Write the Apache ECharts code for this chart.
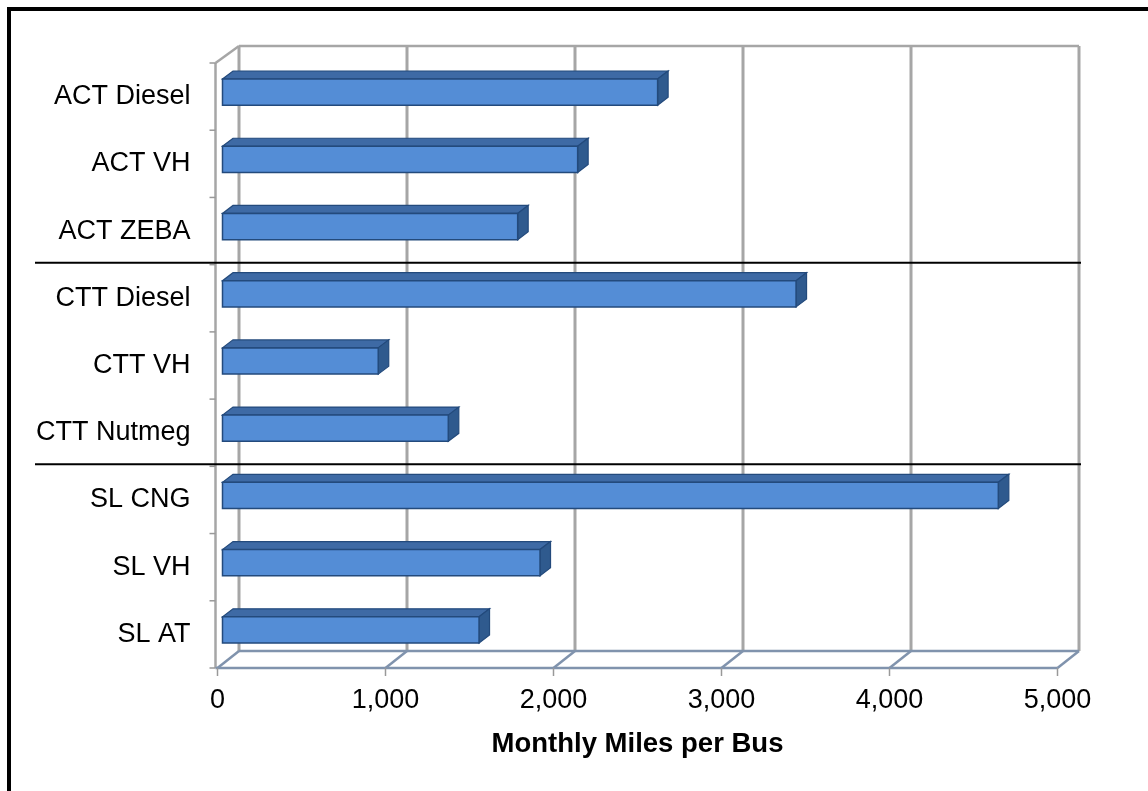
<!DOCTYPE html>
<html>
<head>
<meta charset="utf-8">
<script src="https://cdn.jsdelivr.net/npm/echarts@6/dist/echarts.min.js"></script>
<style>
html,body{margin:0;padding:0;background:#fff;}
#c{width:1148px;height:791px;}
</style>
</head>
<body>
<div id="c"></div>
<script>
// ---- data ----
const categories = ['ACT Diesel','ACT VH','ACT ZEBA','CTT Diesel','CTT VH','CTT Nutmeg','SL CNG','SL VH','SL AT'];
const milesPerBus = [2590, 2114, 1757, 3414, 927, 1344, 4618, 1890, 1527];
const xTicks = [0, 1000, 2000, 3000, 4000, 5000];
const xTickLabels = ['0','1,000','2,000','3,000','4,000','5,000'];
const groupStarts = [3, 6]; // separator lines drawn before these categories
const axisTitle = 'Monthly Miles per Bus';

const FONT = "'Liberation Sans', Arial, sans-serif";
const WALL = [21.5, -17];      // depth vector of the chart walls
const BAR_OFF = [5, -4.5];     // bar front face offset
const BAR_DEPTH = [10.5, -8];  // bar depth vector

const chart = echarts.init(document.getElementById('c'));

function renderFrame(params, api) {
  const cs = params.coordSys;
  const band = api.size([0, 1])[1];
  const top = cs.y, bottom = cs.y + cs.height;
  const left = api.coord([xTicks[0], 0])[0];
  const right = api.coord([xTicks[xTicks.length - 1], 0])[0];
  const ch = [];
  const grid = {stroke:'#a6a6a6', lineWidth:3};
  const floor = {stroke:'#8093ad', lineWidth:2.5};
  xTicks.forEach(t => {
    const x = api.coord([t, 0])[0] + WALL[0];
    ch.push({type:'line', shape:{x1:x, y1:top + WALL[1], x2:x, y2:bottom + WALL[1]}, style:grid});
  });
  ch.push({type:'line', shape:{x1:left + WALL[0], y1:top + WALL[1], x2:right + WALL[0], y2:top + WALL[1]}, style:{stroke:'#a6a6a6', lineWidth:2.5}});
  ch.push({type:'line', shape:{x1:left - 2, y1:top, x2:left - 2, y2:bottom}, style:{stroke:'#a6a6a6', lineWidth:2.5}});
  ch.push({type:'line', shape:{x1:left - 2, y1:top, x2:left + WALL[0], y2:top + WALL[1]}, style:{stroke:'#a6a6a6', lineWidth:2.5}});
  for (let i = 0; i <= categories.length; i++) {
    const y = top + i * band;
    ch.push({type:'line', shape:{x1:left - 8, y1:y, x2:left - 2, y2:y}, style:{stroke:'#999', lineWidth:1.5}});
  }
  ch.push({type:'line', shape:{x1:left + WALL[0], y1:bottom + WALL[1], x2:right + WALL[0], y2:bottom + WALL[1]}, style:floor});
  ch.push({type:'line', shape:{x1:left - 2, y1:bottom, x2:right, y2:bottom}, style:floor});
  xTicks.forEach(t => {
    const x = api.coord([t, 0])[0];
    ch.push({type:'line', shape:{x1:x, y1:bottom, x2:x + WALL[0], y2:bottom + WALL[1]}, style:floor});
    ch.push({type:'line', shape:{x1:x, y1:bottom, x2:x, y2:bottom + 8}, style:{stroke:'#999', lineWidth:1.5}});
  });
  groupStarts.forEach(g => {
    const y = top + g * band - 2;
    ch.push({type:'line', shape:{x1:35, y1:y, x2:1081, y2:y}, style:{stroke:'#000', lineWidth:2}, z2:50});
  });
  return {type:'group', children:ch};
}

function renderBar(params, api) {
  const v = api.value(0), idx = api.value(1);
  const s = api.coord([0, idx]);
  const e = api.coord([v, idx]);
  const band = api.size([0, 1])[1];
  const h = band * 0.39;
  const x0 = s[0] + BAR_OFF[0], x1 = e[0] + BAR_OFF[0];
  const yc = s[1] + BAR_OFF[1];
  const yt = yc - h / 2, yb = yc + h / 2;
  const dx = BAR_DEPTH[0], dy = BAR_DEPTH[1];
  const edge = '#234a7c';
  return {type:'group', children:[
    {type:'polygon', shape:{points:[[x0, yt], [x1, yt], [x1 + dx, yt + dy], [x0 + dx, yt + dy]]},
      style:{fill:'#3e6aa5', stroke:edge, lineWidth:1.2}},
    {type:'polygon', shape:{points:[[x1, yt], [x1 + dx, yt + dy], [x1 + dx, yb + dy], [x1, yb]]},
      style:{fill:'#2f5a8e', stroke:edge, lineWidth:1.2}},
    {type:'rect', shape:{x:x0, y:yt, width:x1 - x0, height:h},
      style:{fill:'#548dd6', stroke:edge, lineWidth:1.5}}
  ]};
}

chart.setOption({
  animation:false,
  backgroundColor:'#fff',
  grid:{left:217.5, right:90.5, top:63, bottom:123, containLabel:false},
  xAxis:{
    type:'value', min:0, max:5000, interval:1000,
    axisLine:{show:false}, axisTick:{show:false}, splitLine:{show:false},
    axisLabel:{fontFamily:FONT, fontSize:27, color:'#000', margin:19,
      formatter:(v) => xTickLabels[xTicks.indexOf(v)]},
    name:axisTitle, nameLocation:'middle', nameGap:62,
    nameTextStyle:{fontFamily:FONT, fontSize:27.5, fontWeight:'bold', color:'#000'}
  },
  yAxis:{
    type:'category', data:categories, inverse:true,
    axisLine:{show:false}, axisTick:{show:false}, splitLine:{show:false},
    axisLabel:{fontFamily:FONT, fontSize:27, color:'#000', margin:27}
  },
  graphic:[{type:'rect', shape:{x:9, y:9, width:1200, height:900}, style:{fill:'none', stroke:'#000', lineWidth:4}, z:100}],
  series:[
    {type:'custom', renderItem:renderFrame, data:[[0, 0]], encode:{x:0, y:1}, silent:true, z:1},
    {type:'custom', renderItem:renderBar, data:milesPerBus.map((v, i) => [v, i]), encode:{x:0, y:1}, z:2}
  ]
});
</script>
</body>
</html>
